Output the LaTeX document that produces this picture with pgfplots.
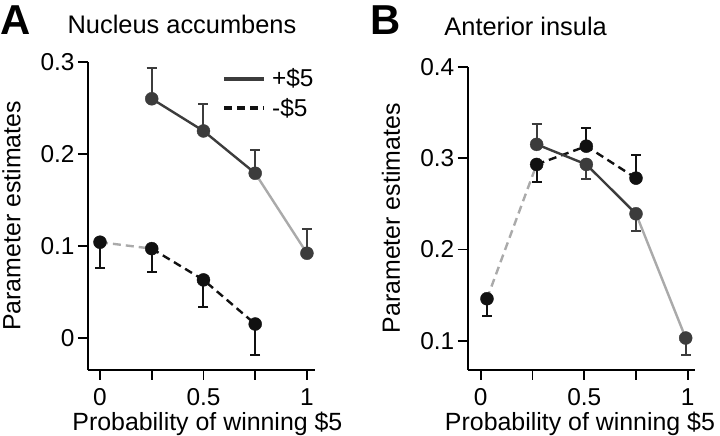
\documentclass[border=0pt]{standalone}
\usepackage{fontspec}
\setmainfont{Liberation Sans}
\usepackage{pgfplots}
\pgfplotsset{compat=1.18}
\definecolor{dg}{RGB}{60,60,60}
\definecolor{bk}{RGB}{17,17,17}
\definecolor{lg}{RGB}{170,170,170}

\pgfplotsset{
  panel/.style={
    scale only axis, clip=false,
    axis x line*=bottom, axis y line*=left,
    axis line style={line width=2bp, black},
    tick align=outside, major tick length=10bp,
    tick style={line width=1.8bp, black},
    xtick={0,0.25,0.5,0.75,1}, xticklabels={0,,0.5,,1},
    ticklabel style={font=\fontsize{24.5}{26}\selectfont},
    xticklabel style={yshift=-5bp},
    /pgf/number format/assume math mode=true,
    label style={font=\fontsize{25}{27}\selectfont, inner sep=0pt},
    title style={font=\fontsize{25.5}{28}\selectfont, anchor=base, inner sep=0pt, yshift=-6pt},
    xlabel={Probability of winning \$5},
    ylabel={Parameter estimates},
    ylabel style={anchor=base, at={(axis description cs:-0.298,0.5)}},
  },
  seg/.style={line width=2.4bp, forget plot},
  dash/.style={dash pattern=on 8bp off 5bp},
  dots/.style={only marks, mark=*, mark size=6.5bp, forget plot,
    error bars/y explicit, error bars/y dir=#1,
    error bars/error mark=-,
    error bars/error bar style={line width=2bp, solid},
    error bars/error mark options={rotate=90, mark size=5bp, line width=2bp}},
}

\begin{document}
\begin{tikzpicture}
\useasboundingbox (0,0) rectangle (720bp,436bp);
\node[anchor=base west, inner sep=0pt, font=\bfseries\fontsize{42}{42}\selectfont] at (0bp,401bp) {A};
\node[anchor=base west, inner sep=0pt, font=\bfseries\fontsize{42}{42}\selectfont] at (370bp,401bp) {B};

% A: nucleus accumbens
\begin{axis}[panel, at={(88bp,66bp)}, anchor=south west,
  width=227bp, height=308bp,
  xmin=-0.058, xmax=1.039, ymin=-0.035, ymax=0.3,
  ytick={0,0.1,0.2,0.3},
  title={Nucleus accumbens},
  title style={at={(axis description cs:0.414,1.091)}},
  xlabel style={at={(axis description cs:0.526,-0.195)}, anchor=base},
  legend style={draw=none, fill=none, inner sep=0pt, row sep=6bp,
    font=\fontsize{24.5}{26}\selectfont,
    /tikz/every odd column/.append style={column sep=4bp},
    at={(axis description cs:0.59,0.985)}, anchor=north west},
  legend cell align=left,
  legend image code/.code={\draw[#1] (0bp,0bp) -- (40bp,0bp);},
]
\addlegendimage{dg, line width=4bp, solid}
\addlegendentry{+\$5}
\addlegendimage{bk, line width=4bp, dash pattern=on 8bp off 5bp}
\addlegendentry{-\$5}
\addplot[seg, lg, dash] coordinates {(0,0.104) (0.25,0.097)};
\addplot[seg, bk, dash] coordinates {(0.25,0.097) (0.5,0.063) (0.75,0.015)};
\addplot[seg, lg] coordinates {(0.75,0.179) (1,0.092)};
\addplot[seg, dg] coordinates {(0.25,0.260) (0.5,0.225) (0.75,0.179)};
\addplot[dots=minus, bk] coordinates {
  (0,0.104) +- (0,0.028) (0.25,0.097) +- (0,0.025)
  (0.5,0.063) +- (0,0.029) (0.75,0.015) +- (0,0.034)};
\addplot[dots=plus, dg] coordinates {
  (0.25,0.260) +- (0,0.033) (0.5,0.225) +- (0,0.029)
  (0.75,0.179) +- (0,0.025) (1,0.092) +- (0,0.026)};
\end{axis}

% B: anterior insula
\begin{axis}[panel, at={(467.7bp,66bp)}, anchor=south west,
  width=227.3bp, height=303.3bp,
  xmin=-0.063, xmax=1.035, ymin=0.068, ymax=0.4,
  ytick={0.1,0.2,0.3,0.4},
  title={Anterior insula},
  title style={at={(axis description cs:0.255,1.1045)}},
  xlabel style={at={(axis description cs:0.494,-0.198)}, anchor=base},
]
\addplot[seg, lg, dash] coordinates {(0.03,0.146) (0.27,0.293)};
\addplot[seg, bk, dash] coordinates {(0.27,0.293) (0.51,0.313) (0.75,0.278)};
\addplot[seg, lg] coordinates {(0.75,0.239) (0.99,0.103)};
\addplot[seg, dg] coordinates {(0.27,0.315) (0.51,0.293) (0.75,0.239)};
\addplot[dots=minus, bk] coordinates {
  (0.03,0.146) +- (0,0.019) (0.27,0.293) +- (0,0.019)};
\addplot[dots=plus, bk] coordinates {
  (0.51,0.313) +- (0,0.020) (0.75,0.278) +- (0,0.025)};
\addplot[dots=plus, dg] coordinates {(0.27,0.315) +- (0,0.022)};
\addplot[dots=minus, dg] coordinates {
  (0.51,0.293) +- (0,0.016) (0.75,0.239) +- (0,0.019) (0.99,0.103) +- (0,0.019)};
\end{axis}
\end{tikzpicture}
\end{document}
